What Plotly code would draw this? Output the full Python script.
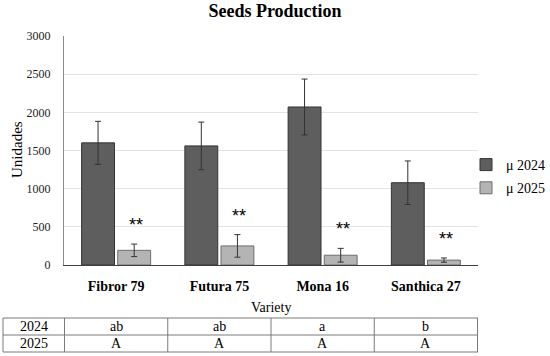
import plotly.graph_objects as go

categories = ["Fibror 79", "Futura 75", "Mona 16", "Santhica 27"]
mean_2024 = [1600, 1560, 2070, 1078]
err_2024 = [282, 312, 366, 285]
mean_2025 = [192, 250, 128, 64]
err_2025 = [82, 148, 90, 28]
sig_2025 = ["**", "**", "**", "**"]
row_labels = ["2024", "2025"]
letters_2024 = ["ab", "ab", "a", "b"]
letters_2025 = ["A", "A", "A", "A"]
y_ticks = [0, 500, 1000, 1500, 2000, 2500, 3000]

W, H = 550, 356
FONT = "Liberation Serif"

def px_x(p):
    return p / W

def px_y(p):
    return (H - p) / H

fig = go.Figure()
fig.add_trace(go.Bar(
    x=categories, y=mean_2024, name="μ 2024",
    marker=dict(color="#5e5e5e", line=dict(color="#333333", width=1)),
    error_y=dict(type="data", array=err_2024, color="#333333", thickness=1, width=3),
    legendgroup="a",
))
fig.add_trace(go.Bar(
    x=categories, y=mean_2025, name="μ 2025",
    marker=dict(color="#b4b4b4", line=dict(color="#6e6e6e", width=1)),
    error_y=dict(type="data", array=err_2025, color="#333333", thickness=1, width=3),
    legendgroup="b",
))

for c, v, e, s in zip(categories, mean_2025, err_2025, sig_2025):
    fig.add_annotation(x=c, y=v + e, text=s, showarrow=False, xshift=20, yshift=19,
                       yanchor="middle", font=dict(family="Liberation Sans", size=18, color="black"))

# --- letters table under the chart (rows aligned to categories) ---
tbl_top, tbl_mid, tbl_bot, tbl_left = 318, 335, 352, 3
line_col = "#7a7a7a"
cell_font = dict(family=FONT, size=14, color="black")
for yy in (tbl_top, tbl_mid, tbl_bot):
    fig.add_shape(type="line", xref="paper", yref="paper", x0=px_x(tbl_left), x1=px_x(478),
                  y0=px_y(yy), y1=px_y(yy), line=dict(color=line_col, width=1))
fig.add_shape(type="line", xref="paper", yref="paper", x0=px_x(tbl_left), x1=px_x(tbl_left),
              y0=px_y(tbl_top), y1=px_y(tbl_bot), line=dict(color=line_col, width=1))
for i in range(len(categories) + 1):
    fig.add_shape(type="line", xref="x", yref="paper", x0=i - 0.5, x1=i - 0.5,
                  y0=px_y(tbl_top), y1=px_y(tbl_bot), line=dict(color=line_col, width=1))
row_centers = [(tbl_top + tbl_mid) / 2, (tbl_mid + tbl_bot) / 2]
for label, yc in zip(row_labels, row_centers):
    fig.add_annotation(text=label, xref="paper", yref="paper", x=px_x((tbl_left + 64) / 2),
                       y=px_y(yc), xanchor="center", yanchor="middle", showarrow=False, font=cell_font)
for row, yc in zip([letters_2024, letters_2025], row_centers):
    for c, t in zip(categories, row):
        fig.add_annotation(text=t, xref="x", yref="paper", x=c, y=px_y(yc),
                           xanchor="center", yanchor="middle", showarrow=False, font=cell_font)

fig.update_layout(
    template="none",
    width=W, height=H,
    margin=dict(l=0, r=0, t=0, b=0, autoexpand=False),
    paper_bgcolor="white", plot_bgcolor="white",
    barmode="group", bargap=0.3, bargroupgap=0.09,
    font=dict(family=FONT, color="black"),
    title=dict(text="<b>Seeds Production</b>", x=0.5, xanchor="center", xref="paper",
               y=px_y(11), yref="container", yanchor="middle",
               font=dict(family=FONT, size=18, color="black")),
    xaxis=dict(domain=[px_x(64), px_x(478)], showline=True, linecolor="#404040", linewidth=1,
               showgrid=False, zeroline=False, automargin=False,
               tickfont=dict(family=FONT, size=14, color="black"), ticks="",
               ticklabelstandoff=8, tickprefix="<b>", ticksuffix="</b>"),
    yaxis=dict(domain=[px_y(265), px_y(36)], range=[0, 3000], tickvals=y_ticks,
               showline=True, linecolor="#8a8a8a", linewidth=1, automargin=False,
               showgrid=True, gridcolor="#e3e3e3", gridwidth=1, zeroline=False,
               tickfont=dict(family=FONT, size=12, color="#222222"), ticks="",
               ticklabelstandoff=10),
    legend=dict(x=px_x(466), y=px_y(149), xanchor="left", yanchor="top",
                font=dict(family=FONT, size=14, color="black"), tracegroupgap=2,
                itemwidth=30, bgcolor="rgba(0,0,0,0)", borderwidth=0),
    showlegend=True,
)

fig.add_annotation(text="Unidades", textangle=-90, x=px_x(17), y=px_y(150), xref="paper", yref="paper",
                   xanchor="center", yanchor="middle",
                   showarrow=False, font=dict(family=FONT, size=15, color="black"))
fig.add_annotation(text="Variety", x=px_x(271), y=px_y(307), xref="paper", yref="paper",
                   xanchor="center", yanchor="middle",
                   showarrow=False, font=dict(family=FONT, size=14, color="black"))

fig.write_html("out.html", config={"displayModeBar": False},
               post_script="document.body.style.margin='0';document.body.style.overflow='hidden';")
